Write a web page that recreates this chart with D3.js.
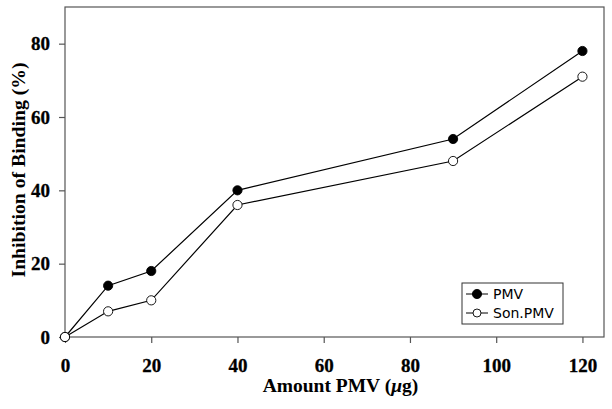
<!DOCTYPE html>
<html><head><meta charset="utf-8">
<script src="https://cdn.jsdelivr.net/npm/d3@7"></script>
<style>body{margin:0;background:#fff}</style>
</head><body>
<svg id="c" width="612" height="409"></svg>
<script>
const xVals = [0, 10, 20, 40, 90, 120];
const pmv = [0, 14, 18, 40, 54, 78];
const sonPmv = [0, 7, 10, 36, 48, 71];
const xTicks = [0, 20, 40, 60, 80, 100, 120];
const yTicks = [0, 20, 40, 60, 80];

const svg = d3.select("#c");
const L = 65, R = 604, T = 7, B = 337;
const x = d3.scaleLinear().domain([0, 125]).range([L, R]);
const y = d3.scaleLinear().domain([0, 90]).range([B, T]);

svg.append("rect").attr("x", L).attr("y", T).attr("width", R - L).attr("height", B - T)
  .attr("fill", "none").attr("stroke", "#555").attr("stroke-width", 1.2);

const xa = svg.append("g").attr("transform", `translate(0,${B})`)
  .call(d3.axisBottom(x).tickValues(xTicks).tickSize(6).tickSizeOuter(0).tickPadding(16));
const ya = svg.append("g").attr("transform", `translate(${L},0)`)
  .call(d3.axisLeft(y).tickValues(yTicks).tickSize(6).tickSizeOuter(0).tickPadding(9));
[xa, ya].forEach(a => {
  a.select(".domain").remove();
  a.selectAll("line").attr("stroke", "#555").attr("stroke-width", 1.2);
  a.selectAll("text").attr("font-family", "Liberation Serif, Times New Roman, serif")
    .attr("font-weight", "bold").attr("font-size", 19).attr("fill", "#000")
    .attr("stroke", "#000").attr("stroke-width", 0.3);
});

svg.append("text").attr("x", (L + R) / 2 + 6).attr("y", 392).attr("text-anchor", "middle")
  .attr("font-family", "Liberation Serif, serif").attr("font-weight", "bold").attr("font-size", 19.5)
  .html('Amount PMV (<tspan font-style="italic">μ</tspan>g)');
svg.append("text").attr("transform", `translate(25,170) rotate(-90)`).attr("text-anchor", "middle")
  .attr("font-family", "Liberation Serif, serif").attr("font-weight", "bold").attr("font-size", 19.5)
  .attr("textLength", 215).attr("lengthAdjust", "spacingAndGlyphs")
  .text("Inhibition of Binding (%)");

const line = d3.line().x(d => x(d[0])).y(d => y(d[1]));
const series = [
  {name: "PMV", vals: pmv, fill: "#000"},
  {name: "Son.PMV", vals: sonPmv, fill: "#fff"}
];
series.forEach(s => {
  const pts = xVals.map((v, i) => [v, s.vals[i]]);
  svg.append("path").attr("d", line(pts)).attr("fill", "none").attr("stroke", "#000").attr("stroke-width", 1.2);
  svg.selectAll(null).data(pts).enter().append("circle")
    .attr("cx", d => x(d[0])).attr("cy", d => y(d[1])).attr("r", 4.6)
    .attr("fill", s.fill).attr("stroke", "#000").attr("stroke-width", 0.9);
});

// legend
const lg = svg.append("g");
lg.append("rect").attr("x", 462).attr("y", 283).attr("width", 101).attr("height", 41)
  .attr("fill", "#fff").attr("stroke", "#333").attr("stroke-width", 1);
series.forEach((s, i) => {
  const yy = 294 + i * 19;
  lg.append("line").attr("x1", 466).attr("x2", 488).attr("y1", yy).attr("y2", yy).attr("stroke", "#000");
  lg.append("circle").attr("cx", 477).attr("cy", yy).attr("r", i === 0 ? 4.6 : 4).attr("fill", s.fill).attr("stroke", "#000").attr("stroke-width", 0.9);
  lg.append("text").attr("x", 493).attr("y", yy + 5).attr("font-family", "DejaVu Sans, Verdana, sans-serif")
    .attr("font-size", 14).attr("fill", "#000").text(s.name);
});
</script>
</body></html>
